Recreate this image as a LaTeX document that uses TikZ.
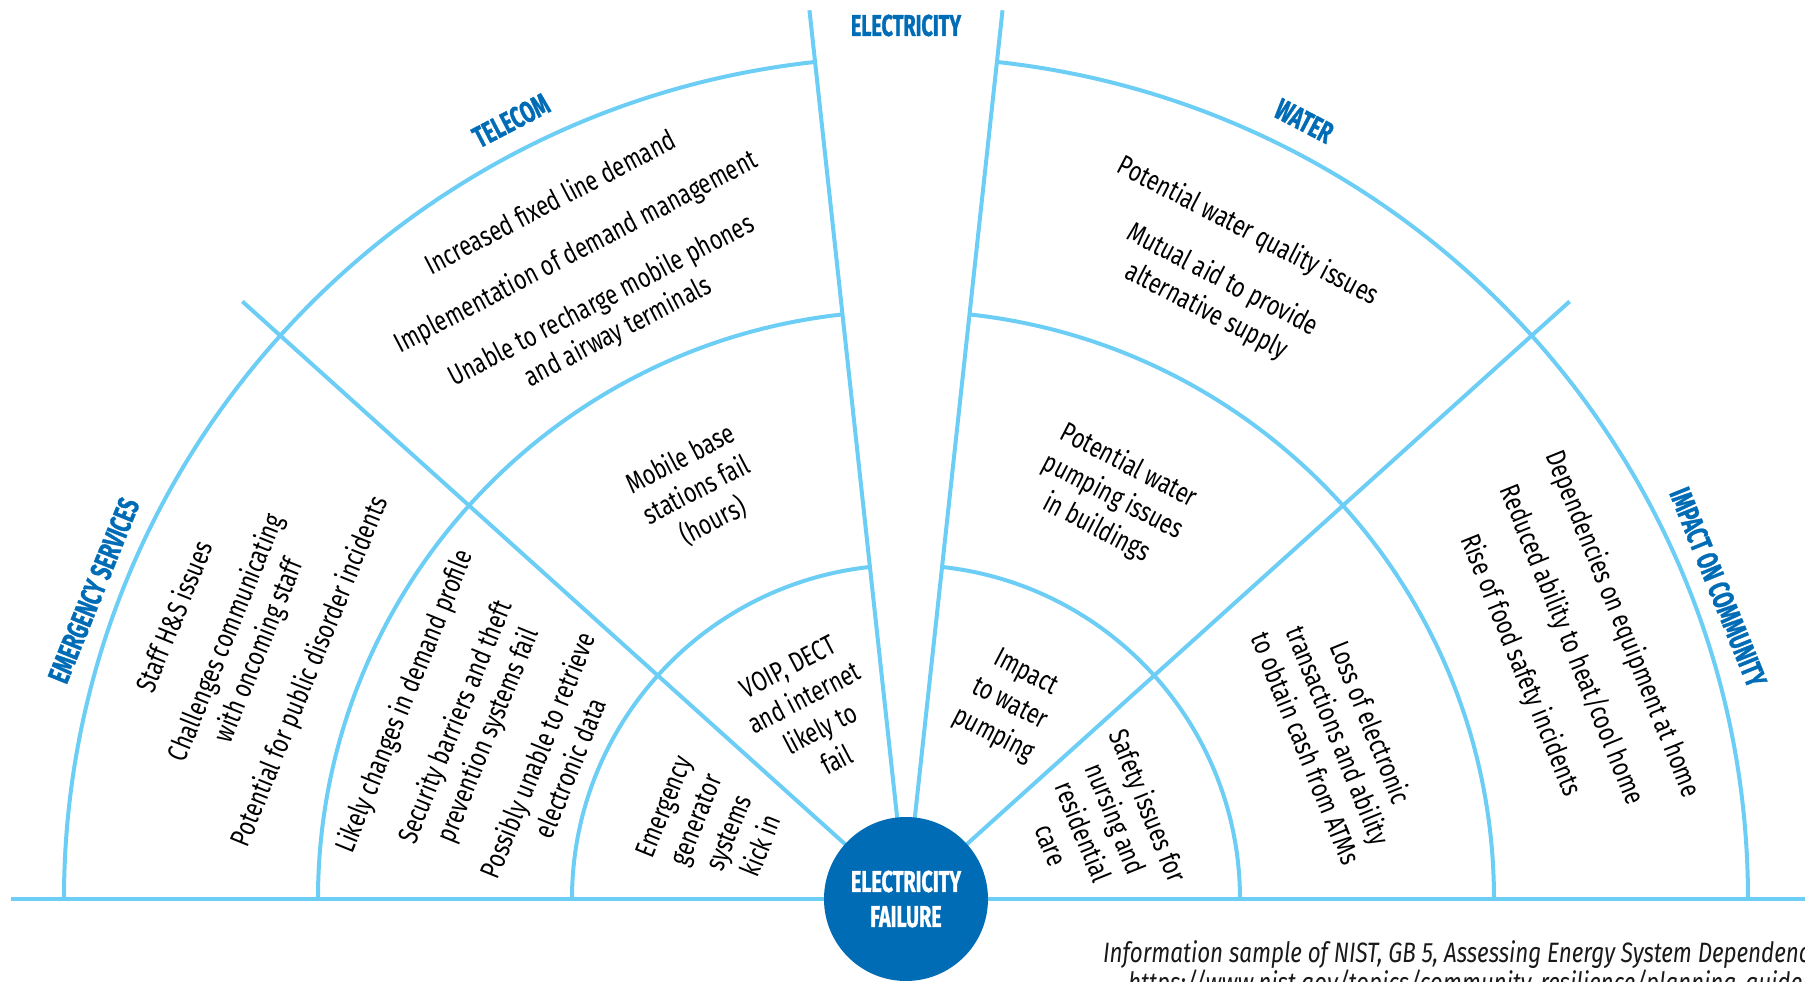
\documentclass[tikz,border=0pt]{standalone}
\usepackage{fontspec}
\setmainfont{Fira Sans}[FakeStretch=0.775]
\newfontfamily\headfont{Fira Sans}[FakeStretch=0.66, FakeBold=1]
\newfontfamily\notefont{Fira Sans}[FakeStretch=0.8]
\definecolor{fanline}{RGB}{108,206,244}
\definecolor{deepblue}{RGB}{0,108,182}
\begin{document}
\begin{tikzpicture}[x=1pt,y=1pt,
  fan/.style={draw=fanline, line width=4pt},
  item/.style={inner sep=0pt, align=center, text=black,
    font=\fontsize{28}{35}\selectfont},
  head/.style={inner sep=0pt, text=deepblue,
    font=\headfont\bfseries\fontsize{30}{36}\selectfont},
  note/.style={inner sep=0pt, anchor=base west, text=black!90,
    font=\notefont\itshape\fontsize{28}{34}\selectfont},
]
\useasboundingbox (-906,-83) rectangle (899,899);

% hub of the fan
\coordinate (O) at (0,0);

% rings (left open across the electricity sector)
\foreach \r in {334,588,842}{
  \draw[fan] (0:\r) arc[start angle=0, end angle=83.8, radius=\r];
  \draw[fan] (96.2:\r) arc[start angle=96.2, end angle=180, radius=\r];
}

% spokes separating the sectors
\coordinate (sImpact)  at (42:893);
\coordinate (sElecR)   at (83.8:894);
\coordinate (sElecL)   at (96.2:894);
\coordinate (sTelecom) at (138:893);
\foreach \s in {sImpact,sElecR,sElecL,sTelecom}
  \draw[fan] (O) -- (\s);

% ground line
\coordinate (gl) at (-895,0);
\coordinate (gr) at (899,0);
\draw[fan] (gl) -- (gr);

% central disc
\node[circle, fill=deepblue, minimum size=164pt, inner sep=0pt, align=center,
  text=white, font=\headfont\bfseries\fontsize{30}{35}\selectfont]
  (core) at (O) {ELECTRICITY\\FAILURE};

% sector headings
\node[head] (hElec) at (90:873.5) {ELECTRICITY};
\node[head, rotate=27.5] (hTel) at (116.9:873) {TELECOM};
\node[head, rotate=-27.5] (hWat) at (62.9:874) {WATER};
\node[head, rotate=68] (hEmg) at (159.2:869) {EMERGENCY SERVICES};
\node[head, rotate=-68] (hCom) at (21:870) {IMPACT ON COMMUNITY};

% emergency services
\node[item, rotate=68] (e3) at (159:710)
  {Staff H\&S issues\\[20pt]Challenges communicating\\with oncoming staff\\[20pt]Potential for public disorder incidents};
\node[item, rotate=68] (e2) at (158.6:451)
  {Likely changes in demand profile\\[20pt]Security barriers and theft\\prevention systems fail\\[20pt]Possibly unable to retrieve\\electronic data};
\node[item, rotate=68] (e1) at (159.4:207)
  {Emergency\\generator\\systems\\kick in};

% telecom
\node[item, rotate=27.5] (t3) at (117:708)
  {Increased fixed line demand\\[20pt]Implementation of demand management\\[20pt]Unable to recharge mobile phones\\and airway terminals};
\node[item, rotate=27.5] (t2) at (117.1:459)
  {Mobile base\\stations fail\\(hours)};
\node[item, rotate=27.5] (t1) at (116.8:208)
  {VOIP, DECT\\and internet\\likely to\\fail};

% water
\node[item, rotate=-27.5] (w3) at (62.9:705)
  {Potential water quality issues\\[20pt]Mutual aid to provide\\alternative supply};
\node[item, rotate=-27.5] (w2) at (62.8:452)
  {Potential water\\pumping issues\\in buildings};
\node[item, rotate=-27.5] (w1) at (62:220)
  {Impact\\to water\\pumping};

% impact on community
\node[item, rotate=-68] (c3) at (20.9:712)
  {Dependencies on equipment at home\\[20pt]Reduced ability to heat/cool home\\[20pt]Rise of food safety incidents};
\node[item, rotate=-68] (c2) at (20.7:463)
  {Loss of electronic\\transactions and ability\\to obtain cash from ATMs};
\node[item, rotate=-68] (c1) at (20.8:208)
  {Safety issues for\\nursing and\\residential\\care};

% source note
\node[note] (src1) at (197,-64)
  {Information sample of NIST, GB 5, Assessing Energy System Dependencies};
\node[note] (src2) at (222,-94)
  {https://www.nist.gov/topics/community-resilience/planning-guide};
\end{tikzpicture}
\end{document}
